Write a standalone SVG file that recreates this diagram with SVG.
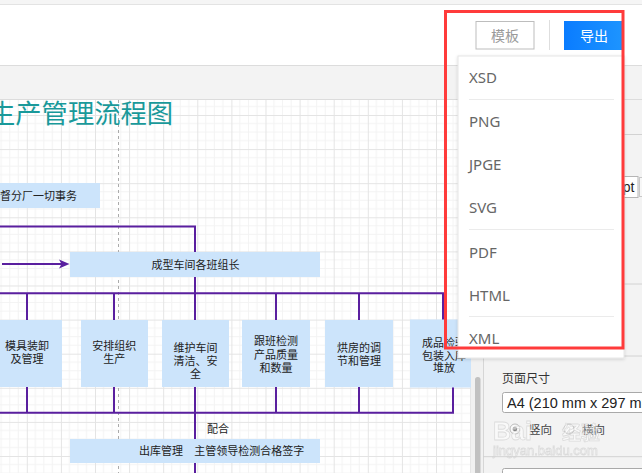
<svg xmlns="http://www.w3.org/2000/svg" width="642" height="473" viewBox="0 0 642 473">
<style>
.cjk{font-family:"Noto Sans CJK SC","Noto Sans",sans-serif;}
.node rect{fill:#cce4fb;}
.node text{font-family:"Noto Sans CJK SC",sans-serif;font-size:11px;fill:#222;text-anchor:middle;}
.conn{stroke:#5a1f9f;stroke-width:2;fill:none;}
.mi{font-family:"Noto Sans","Liberation Sans",sans-serif;font-size:15px;fill:#666;}
.sep{stroke:#ebebeb;stroke-width:1;}
.pl{stroke:#d2d2d2;stroke-width:1;}
</style>
<defs>
<pattern id="grid" x="26.8" y="12.7" width="34.1" height="34.1" patternUnits="userSpaceOnUse">
<path d="M8.5 0V34.1M17.05 0V34.1M25.6 0V34.1M0 8.5H34.1M0 17.05H34.1M0 25.6H34.1" stroke="#f3f3f3" stroke-width="1"/>
<path d="M0.5 0V34.1M0 0.5H34.1" stroke="#e4e4e4" stroke-width="1"/>
</pattern>
<linearGradient id="blue" x1="0" y1="0" x2="1" y2="0">
<stop offset="0" stop-color="#0a7cff"/><stop offset="1" stop-color="#1e95ff"/>
</linearGradient>
<filter id="sh" x="-10%" y="-10%" width="120%" height="120%">
<feDropShadow dx="0" dy="1" stdDeviation="1.5" flood-color="#000" flood-opacity="0.15"/>
</filter>
</defs>

<!-- page background / toolbar -->
<rect x="0" y="0" width="642" height="473" fill="#ffffff"/>
<rect x="0" y="0" width="642" height="4.5" fill="#f5f5f5"/>
<line x1="0" y1="4.5" x2="642" y2="4.5" stroke="#e3e3e3"/>
<rect x="0" y="65.5" width="642" height="34" fill="#f3f3f3"/>
<line x1="0" y1="65.5" x2="642" y2="65.5" stroke="#dcdcdc"/>
<line x1="0" y1="99.5" x2="642" y2="99.5" stroke="#dcdcdc"/>

<!-- canvas -->
<rect x="0" y="100" width="471" height="373" fill="#ffffff"/>
<rect x="0" y="100" width="471" height="373" fill="url(#grid)"/>
<line x1="118.5" y1="100" x2="118.5" y2="473" stroke="#ababab" stroke-dasharray="3,3"/>
<!-- gutter + scrollbar -->
<rect x="471" y="100" width="12" height="373" fill="#f1f1f1"/>
<rect x="475" y="377" width="5.5" height="100" rx="2.5" fill="#c1c1c1"/>

<!-- right panel -->
<rect x="483" y="100" width="159" height="373" fill="#f3f3f3"/>
<line x1="483.5" y1="100" x2="483.5" y2="473" stroke="#d6d6d6"/>
<line class="pl" x1="483" y1="134.5" x2="642" y2="134.5"/>
<rect x="600" y="176.5" width="38" height="21" fill="#ffffff" stroke="#b5b5b5"/>
<text x="634.5" y="192" font-family="Liberation Sans,sans-serif" font-size="14" fill="#222" text-anchor="end">pt</text>
<rect x="639.5" y="177.5" width="6" height="19" fill="#f7f7f7" stroke="#c8c8c8"/>
<line class="pl" x1="483" y1="284" x2="642" y2="284"/>
<line class="pl" x1="483" y1="356" x2="642" y2="356"/>
<text x="502" y="382.5" class="cjk" font-size="12" fill="#333">页面尺寸</text>
<rect x="502.5" y="392.5" width="150" height="20" rx="2" fill="#ffffff" stroke="#a9a9a9"/>
<text x="507" y="407.5" font-family="Liberation Sans,sans-serif" font-size="14.5" fill="#222">A4 (210 mm x 297 mm</text>
<circle cx="515" cy="429" r="5" fill="#fafafa" stroke="#bbb"/>
<circle cx="515" cy="429" r="2.2" fill="#777"/>
<text x="529" y="433.5" class="cjk" font-size="11.5" fill="#444">竖向</text>
<circle cx="569" cy="429" r="5" fill="#fafafa" stroke="#bbb"/>
<text x="582" y="433.5" class="cjk" font-size="11.5" fill="#444">横向</text>
<g opacity="0.55" fill="#ffffff" stroke="#c9c9c9" stroke-width="0.8">
<text x="493" y="440" font-family="Liberation Sans,sans-serif" font-size="25" font-weight="bold">Bai</text>
<text x="562" y="440" class="cjk" font-size="19" font-weight="bold">经验</text>
<text x="493" y="455" font-family="Liberation Sans,sans-serif" font-size="13">jingyan.baidu.com</text>
</g>
<line class="pl" x1="483" y1="456.7" x2="642" y2="456.7"/>
<rect x="502.5" y="468.5" width="150" height="20" rx="2" fill="#ffffff" stroke="#a9a9a9"/>

<!-- title -->
<text x="-11" y="122.5" class="cjk" font-size="26.3" fill="#19999a">生产管理流程图</text>

<!-- connectors -->
<g id="connectors">
<path class="conn" d="M0 226.5H195V473"/>
<path class="conn" d="M2 264H62"/>
<polygon points="59,259.5 69.5,264 59,268.5 61.5,264" fill="#5a1f9f"/>
<path class="conn" d="M0 293.3H443V320"/>
<path class="conn" d="M27 293.3V320M114 293.3V320M276 293.3V320M359 293.3V320"/>
<path class="conn" d="M0 412.7H453V387"/>
<path class="conn" d="M27 387V412.7M114 387V412.7M276 387V412.7M359 387V412.7"/>
</g>

<!-- nodes -->
<g id="node-supervise" class="node">
<rect x="-10" y="183" width="110" height="25"/>
<text x="0" y="200" style="text-anchor:start">督分厂一切事务</text>
</g>
<g id="node-leaders" class="node">
<rect x="70" y="252" width="250" height="25"/>
<text x="195.5" y="269">成型车间各班组长</text>
</g>
<g id="node-mold" class="node">
<rect x="-8" y="320" width="70" height="67"/>
<text x="27" y="350">模具装卸</text>
<text x="27" y="363.3">及管理</text>
</g>
<g id="node-arrange" class="node">
<rect x="81" y="320" width="67" height="67"/>
<text x="114.3" y="350">安排组织</text>
<text x="114.3" y="363.3">生产</text>
</g>
<g id="node-maintain" class="node">
<rect x="162" y="320" width="67" height="67"/>
<text x="195.5" y="351.7">维护车间</text>
<text x="195.5" y="365">清洁、安</text>
<text x="195.5" y="378">全</text>
</g>
<g id="node-inspect" class="node">
<rect x="242" y="320" width="68" height="67"/>
<text x="276" y="345.3">跟班检测</text>
<text x="276" y="359">产品质量</text>
<text x="276" y="372">和数量</text>
</g>
<g id="node-oven" class="node">
<rect x="325" y="320" width="68" height="67"/>
<text x="359" y="352">烘房的调</text>
<text x="359" y="365.3">节和管理</text>
</g>
<g id="node-finished" class="node">
<rect x="410" y="319.5" width="61" height="68"/>
<text x="444" y="346.5">成品检验</text>
<text x="444" y="359.8">包装入库</text>
<text x="444" y="372">堆放</text>
</g>
<g id="label-cooperate">
<text x="207" y="432.5" class="cjk" font-size="11" fill="#222">配合</text>
</g>
<g id="node-outbound" class="node">
<rect x="70" y="439" width="250" height="24"/>
<text style="text-anchor:start" y="455"><tspan x="139">出库管理</tspan><tspan x="194.3">主管领导检测合格签字</tspan></text>
</g>

<!-- toolbar buttons -->
<rect x="476" y="21.5" width="58" height="27.5" fill="#ffffff" stroke="#bdbdbd"/>
<text x="505" y="40.5" class="cjk" font-size="14" fill="#9a9a9a" text-anchor="middle">模板</text>
<line x1="549.5" y1="20" x2="549.5" y2="50" stroke="#dedede"/>
<rect x="564" y="21" width="60" height="29" fill="url(#blue)"/>
<text x="594" y="40.5" class="cjk" font-size="14" fill="#ffffff" text-anchor="middle">导出</text>

<!-- dropdown menu -->
<g id="menu">
<rect x="458" y="56" width="166" height="302" fill="#ffffff" stroke="#e6e6e6" filter="url(#sh)"/>
<text class="mi" x="469" y="83.3">XSD</text>
<line class="sep" x1="469" y1="99.5" x2="614" y2="99.5"/>
<text class="mi" x="469" y="127.3">PNG</text>
<text class="mi" x="469" y="170.3">JPGE</text>
<text class="mi" x="469" y="212.5">SVG</text>
<line class="sep" x1="469" y1="229.5" x2="614" y2="229.5"/>
<text class="mi" x="469" y="257.5">PDF</text>
<text class="mi" x="469" y="300.5">HTML</text>
<line class="sep" x1="469" y1="316.5" x2="614" y2="316.5"/>
<text class="mi" x="469" y="343.5">XML</text>
</g>
<rect x="445.5" y="11.5" width="177.5" height="336.5" fill="none" stroke="#ff3b3b" stroke-width="3"/>
</svg>
